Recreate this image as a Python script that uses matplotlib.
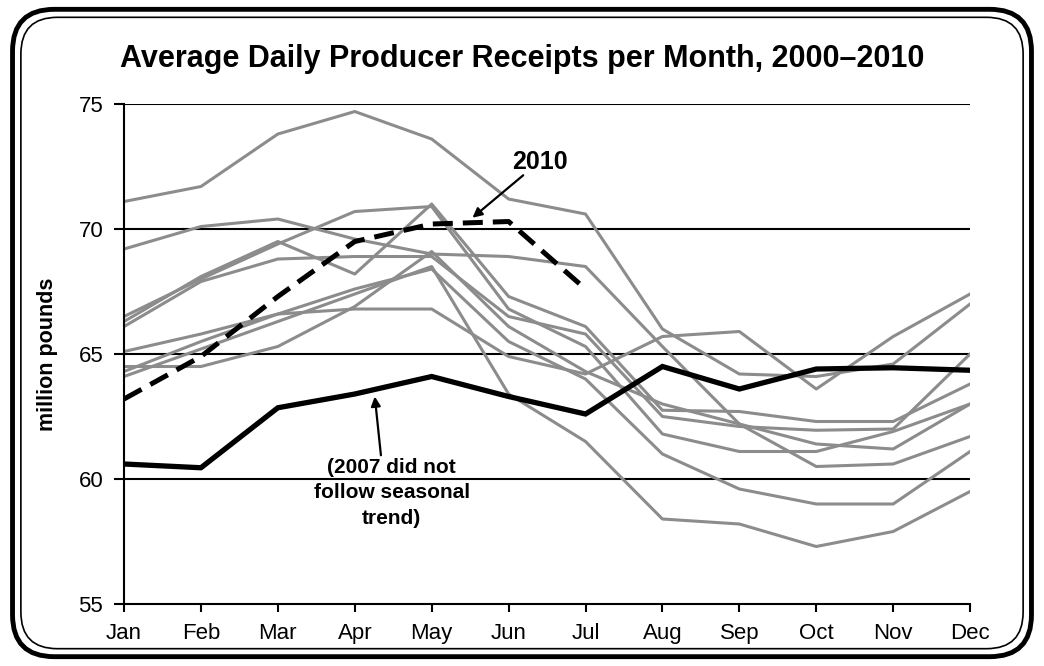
import matplotlib.pyplot as plt
from matplotlib.patches import FancyBboxPatch

# month labels and the years drawn in gray
months = ["Jan", "Feb", "Mar", "Apr", "May", "Jun", "Jul", "Aug", "Sep", "Oct", "Nov", "Dec"]

# other years 2000-2009 (all but 2007)
gray_a = [71.1, 71.7, 73.8, 74.7, 73.6, 71.2, 70.6, 66.0, 64.2, 64.1, 64.6, 67.0]
gray_b = [65.1, 65.8, 66.6, 66.8, 66.8, 64.9, 64.2, 65.7, 65.9, 63.6, 65.7, 67.4]
gray_c = [69.2, 70.1, 70.4, 69.6, 69.0, 68.9, 68.5, 65.3, 62.2, 60.5, 60.6, 61.7]
gray_d = [64.1, 65.2, 66.3, 67.4, 68.5, 63.4, 61.5, 58.4, 58.2, 57.3, 57.9, 59.5]
gray_f = [66.3, 68.1, 69.5, 68.2, 71.0, 67.3, 66.1, 62.75, 62.7, 62.3, 62.3, 63.8]
gray_g = [66.1, 67.9, 68.8, 68.9, 68.9, 66.5, 65.8, 62.5, 62.1, 61.95, 62.0, 65.0]
gray_h = [66.5, 68.0, 69.4, 70.7, 70.9, 66.8, 65.3, 61.8, 61.1, 61.1, 61.9, 63.0]
gray_j = [64.5, 64.5, 65.3, 66.9, 69.1, 66.1, 64.3, 63.0, 62.2, 61.4, 61.2, 63.0]
gray_k = [64.3, 65.5, 66.6, 67.6, 68.4, 65.5, 64.0, 61.0, 59.6, 59.0, 59.0, 61.1]
gray_years = [gray_a, gray_b, gray_c, gray_d, gray_f, gray_g, gray_h, gray_j, gray_k]

y2007 = [60.6, 60.45, 62.85, 63.4, 64.1, 63.3, 62.6, 64.5, 63.6, 64.4, 64.45, 64.35]
y2010 = [63.2, 64.9, 67.3, 69.5, 70.2, 70.3, 67.6]

plt.rcParams['font.family'] = ['Liberation Sans', 'DejaVu Sans']

fig = plt.figure(figsize=(10.44, 6.66), dpi=100)

# rounded double border round the whole picture
outer = FancyBboxPatch((0.012, 0.014), 0.976, 0.972, boxstyle="round,pad=0,rounding_size=0.04",
                       transform=fig.transFigure, fill=False, lw=3.5, ec='black', mutation_aspect=1.57)
inner = FancyBboxPatch((0.02, 0.026), 0.96, 0.948, boxstyle="round,pad=0,rounding_size=0.035",
                       transform=fig.transFigure, fill=False, lw=1.2, ec='black', mutation_aspect=1.57)
fig.patches.extend([outer, inner])

ax = fig.add_axes([0.1188, 0.0931, 0.8104, 0.7507])
x = list(range(len(months)))

for vals in gray_years:
    ax.plot(x, vals, color='#8c8c8c', lw=2.2, zorder=2)

ax.plot(x, y2007, color='black', lw=3.8, solid_joinstyle='miter', zorder=4)
ax.plot(x[:len(y2010)], y2010, color='black', lw=3.6, ls=(0, (4, 2)), zorder=4)

ax.set_xlim(0, 11)
ax.set_ylim(55, 75)
ax.set_xticks(x)
ax.set_xticklabels(months, fontsize=16)
ax.set_yticks([55, 60, 65, 70, 75])
ax.tick_params(axis='y', labelsize=16, length=7, width=1.5, direction='out', pad=8)
ax.tick_params(axis='x', length=6, width=1.5, direction='out', pad=8)
for v in [60, 65, 70, 75]:
    ax.axhline(v, color='black', lw=1.5, zorder=1)
ax.spines['top'].set_visible(False)
ax.spines['right'].set_visible(False)
ax.spines['left'].set_linewidth(1.5)
ax.spines['bottom'].set_linewidth(1.5)
ax.set_ylabel("million pounds", fontsize=15.5, fontweight='bold', va='center')
ax.yaxis.set_label_coords(-0.09, 0.5)

ax.text(5.41, 72.7, "2010", ha='center', va='center', fontsize=18, fontweight='bold')
ax.annotate("", xy=(4.53, 70.45), xytext=(5.19, 72.15),
            arrowprops=dict(arrowstyle='-|>', color='black', lw=1.6, shrinkA=0, shrinkB=0,
                            mutation_scale=14))
ax.text(3.48, 59.45, "(2007 did not\nfollow seasonal\ntrend)", ha='center', va='center',
        fontsize=15, fontweight='bold', linespacing=1.45)
ax.annotate("", xy=(3.26, 63.3), xytext=(3.34, 60.95),
            arrowprops=dict(arrowstyle='-|>', color='black', lw=1.6, shrinkA=0, shrinkB=0,
                            mutation_scale=14))

fig.text(0.5, 0.912, "Average Daily Producer Receipts per Month, 2000\u20132010",
         ha='center', va='center', fontsize=22, fontweight='bold')

fig.savefig("out.png", dpi=100)
